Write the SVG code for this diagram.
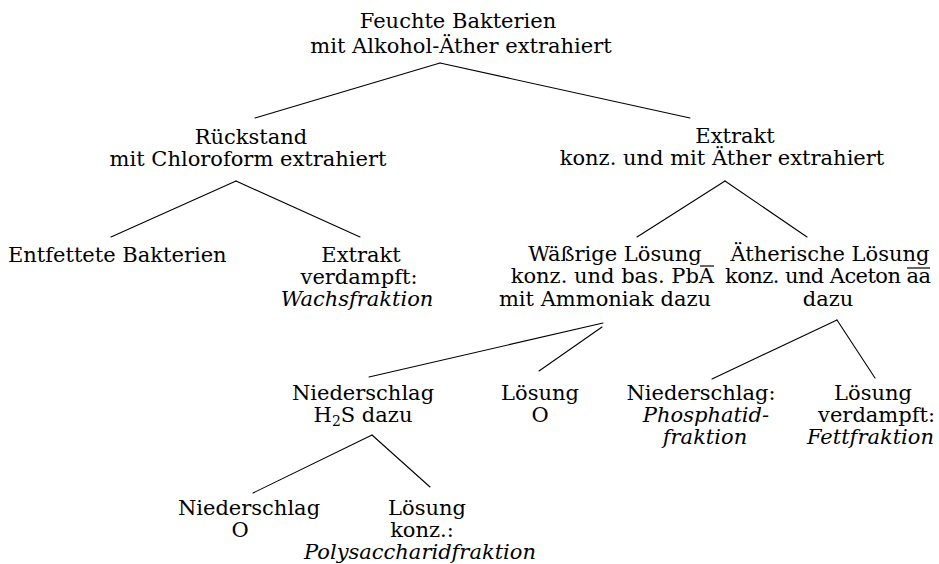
<svg xmlns="http://www.w3.org/2000/svg" width="939" height="564" viewBox="0 0 939 564">
  <style>
    .t { font-family: "DejaVu Serif", "Liberation Serif", serif; font-size: 21px; fill: #000; text-anchor: middle; }
    .l { text-anchor: start; }
    .e { text-anchor: end; }
    .i { font-style: italic; }
    .c line { stroke: #000; stroke-width: 1.1; stroke-linecap: round; }
    .ol { stroke: #000; stroke-width: 1.2; }
  </style>
  <rect width="939" height="564" fill="#fff"/>

  <!-- connectors -->
  <g id="connectors" class="c">
    <line x1="440" y1="63" x2="255" y2="118"/>
    <line x1="440" y1="63" x2="690" y2="118"/>
    <line x1="236" y1="181" x2="111" y2="237"/>
    <line x1="236" y1="181" x2="360" y2="237"/>
    <line x1="725" y1="181" x2="637" y2="237"/>
    <line x1="725" y1="181" x2="807" y2="237"/>
    <line x1="603" y1="323" x2="369" y2="377"/>
    <line x1="602" y1="327" x2="539" y2="371"/>
    <line x1="837" y1="320" x2="712" y2="379"/>
    <line x1="837" y1="320" x2="875" y2="378"/>
    <line x1="372" y1="435" x2="253" y2="493"/>
    <line x1="372" y1="435" x2="430" y2="487"/>
  </g>

  <g id="n-root">
    <text class="t" x="458" y="28">Feuchte Bakterien</text>
    <text class="t" x="461" y="53">mit Alkohol-Äther extrahiert</text>
  </g>

  <g id="n-rueckstand">
    <text class="t" x="251" y="144">Rückstand</text>
    <text class="t" x="248" y="166">mit Chloroform extrahiert</text>
  </g>

  <g id="n-extrakt">
    <text class="t" x="735" y="143">Extrakt</text>
    <text class="t" x="722" y="165">konz. und mit Äther extrahiert</text>
  </g>

  <g id="n-entfettet">
    <text class="t l" x="8" y="262">Entfettete Bakterien</text>
  </g>

  <g id="n-wachs">
    <text class="t" x="361" y="262">Extrakt</text>
    <text class="t" x="359" y="284">verdampft:</text>
    <text class="t i" x="357" y="306">Wachsfraktion</text>
  </g>

  <g id="n-waessrig">
    <text class="t" x="615" y="261">Wäßrige Lösung</text>
    <text class="t e" x="714" y="283">konz. und bas. PbA</text>
    <!-- bar over the A of PbA -->
    <line class="ol" x1="700" y1="266" x2="714" y2="266"/>
    <text class="t" x="605" y="306">mit Ammoniak dazu</text>
  </g>

  <g id="n-aetherisch">
    <text class="t" x="830" y="261">Ätherische Lösung</text>
    <text class="t e" x="931" y="283" textLength="206" lengthAdjust="spacing">konz. und Aceton aa</text>
    <!-- bar over "aa" -->
    <line class="ol" x1="907" y1="268" x2="930" y2="268"/>
    <text class="t" x="828" y="306">dazu</text>
  </g>

  <g id="n-niederschlag-h2s">
    <text class="t" x="363" y="400">Niederschlag</text>
    <text class="t" x="363" y="422">H<tspan font-size="14" dy="4">2</tspan><tspan dy="-4">S dazu</tspan></text>
  </g>

  <g id="n-loesung-o">
    <text class="t" x="540" y="400">Lösung</text>
    <text class="t" x="540" y="422">O</text>
  </g>

  <g id="n-phosphatid">
    <text class="t" x="701" y="400">Niederschlag:</text>
    <text class="t i" x="706" y="422">Phosphatid-</text>
    <text class="t i" x="705" y="444">fraktion</text>
  </g>

  <g id="n-fett">
    <text class="t" x="873" y="400">Lösung</text>
    <text class="t e" x="935" y="422" font-size="19.5">verdampft:</text>
    <text class="t i e" x="934" y="444" font-size="18.5">Fettfraktion</text>
  </g>

  <g id="n-niederschlag-o">
    <text class="t" x="249" y="515">Niederschlag</text>
    <text class="t" x="240" y="537">O</text>
  </g>

  <g id="n-polysaccharid">
    <text class="t" x="427" y="515">Lösung</text>
    <text class="t" x="422" y="537">konz.:</text>
    <text class="t i" x="420" y="559">Polysaccharidfraktion</text>
  </g>
</svg>
